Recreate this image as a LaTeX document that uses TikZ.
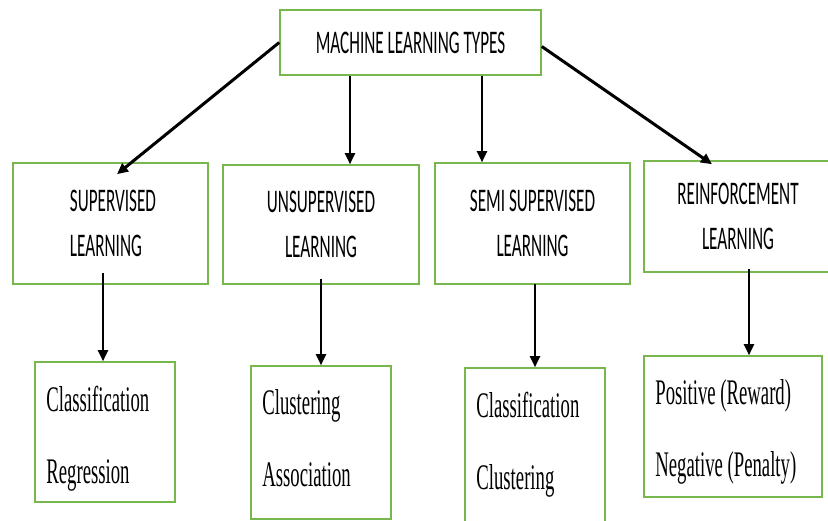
\documentclass[tikz,border=0pt]{standalone}
\usepackage{fontspec}
\usetikzlibrary{arrows.meta}
\newfontfamily\headfont[FakeStretch=0.52]{Carlito}
\newfontfamily\itemfont[FakeStretch=0.52]{Liberation Serif}
\definecolor{boxgreen}{RGB}{120,182,78}
\begin{document}
\begin{tikzpicture}[x=1pt,y=1pt,
		box/.style={draw=boxgreen, line width=1.6pt, rectangle, inner sep=0pt},
		head/.style={box, align=center, font=\headfont\fontsize{33}{45.5}\selectfont, text=black},
		item/.style={anchor=north west, inner xsep=12pt, inner ysep=24.5pt, align=left, font=\itemfont\fontsize{36}{72}\selectfont, text=black},
		arr/.style={-{Triangle[length=11pt,width=10pt]}, line width=2pt},
		bigarr/.style={arr, line width=3pt}]
		\useasboundingbox (0,0) rectangle (828,-521);
		% top
		\node[head, minimum width=261, minimum height=65] (types) at (410.5,-42.5) {MACHINE LEARNING TYPES};
		% second row
		\node[head, align=left, minimum width=195, minimum height=121] (sup) at (110.5,-223.5) {\hspace*{5pt}SUPERVISED\\\hspace*{5pt}LEARNING};
		\node[head, minimum width=196, minimum height=119] (unsup) at (321,-224.5) {UNSUPERVISED\\LEARNING};
		\node[head, minimum width=195, minimum height=121] (semi) at (532.5,-223.5) {SEMI SUPERVISED\\LEARNING};
		\node[head, minimum width=188, minimum height=111] (reinf) at (738,-216.5) {REINFORCEMENT\\LEARNING};
		% third row
		\node[box, minimum width=140, minimum height=140] (supbox) at (105,-432) {};
		\node[box, minimum width=140, minimum height=153] (unsupbox) at (321,-442.5) {};
		\node[box, minimum width=140, minimum height=162] (semibox) at (535,-449) {};
		\node[box, minimum width=178, minimum height=141] (reinfbox) at (733,-426.5) {};
		\node[item] (suptext) at (supbox.north west) {Classification\\Regression};
		\node[item] (unsuptext) at (unsupbox.north west) {Clustering\\Association};
		\node[item] (semitext) at (semibox.north west) {Classification\\Clustering};
		\node[item] (reinftext) at (reinfbox.north west) {Positive (Reward)\\Negative (Penalty)};
		% arrows
		\draw[bigarr] (types.west) -- ([xshift=6.5,yshift=-12]sup.north);
		\draw[arr] ([xshift=-60.5]types.south) -- ([xshift=-60.5]types.south |- unsup.north);
		\draw[arr] ([xshift=71.5]types.south) -- ([xshift=71.5]types.south |- semi.north);
		\draw[bigarr] ([yshift=-4]types.east) -- ([xshift=-26,yshift=-4]reinf.north);
		\draw[arr] ([xshift=-7.5,yshift=12]sup.south) -- ([xshift=-2]supbox.north);
		\draw[arr] ([yshift=6]unsup.south) -- (unsupbox.north);
		\draw[arr] ([xshift=2.5,yshift=1]semi.south) -- (semibox.north);
		\draw[arr] ([xshift=11,yshift=4]reinf.south) -- ([xshift=16]reinfbox.north);
	\end{tikzpicture}
\end{document}
